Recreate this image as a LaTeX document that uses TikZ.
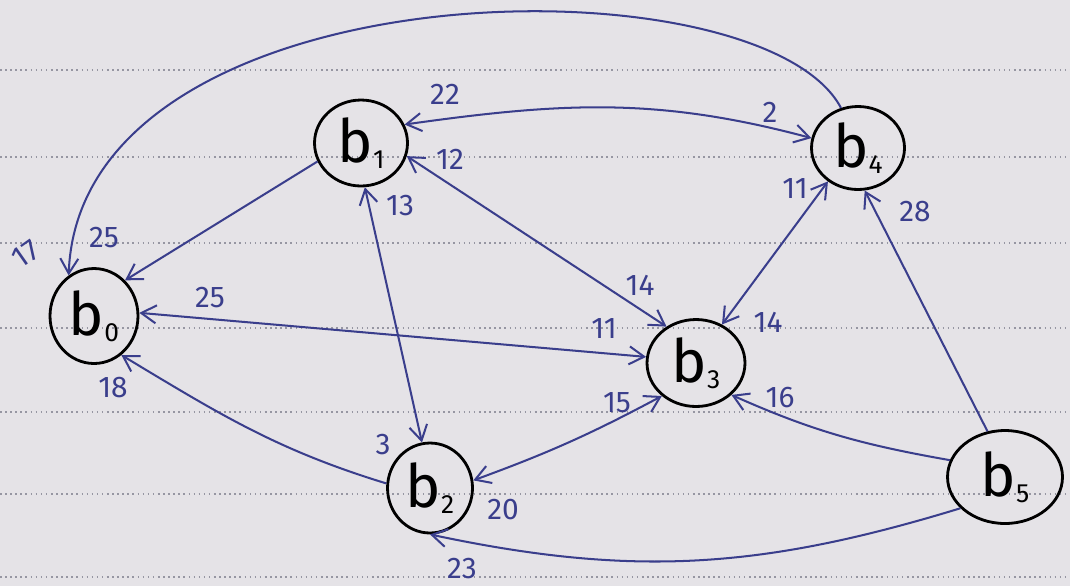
\documentclass[tikz,border=0pt]{standalone}
\usepackage{fontspec}
\setmainfont{Fira Sans}
\usetikzlibrary{arrows.meta,shapes.geometric}
\definecolor{ink}{RGB}{58,62,140}
\definecolor{paper}{RGB}{229,227,231}
\definecolor{rulecol}{RGB}{150,150,162}
\newcommand{\bnode}[1]{{\fontsize{34}{34}\selectfont b}\raisebox{-0.6ex}{\fontsize{15}{15}\selectfont #1}}
\begin{document}
\begin{tikzpicture}[x=0.02cm,y=-0.02cm,
  vert/.style={draw=black,line width=1.6pt,ellipse,inner sep=0pt,text=black},
  edge/.style={draw=ink,line width=1.15pt},
  arr/.style={edge,-{Straight Barb[length=3mm,width=3.6mm]}},
  darr/.style={edge,{Straight Barb[length=3mm,width=3.6mm]}-{Straight Barb[length=3mm,width=3.6mm]}},
  wt/.style={text=ink,font=\fontsize{17}{17}\selectfont,inner sep=0pt},
  paperline/.style={draw=rulecol,line width=0.9pt,dotted}]
\fill[paper] (0,0) rectangle (1070,586);
\useasboundingbox (0,0) rectangle (1070,586);
\foreach \y in {70,157,243,328,412,494,577} \draw[paperline] (0,\y) -- (1070,\y);

\node[vert,minimum width=1.76cm,minimum height=1.9cm] (b0) at (94,316) {\bnode{0}};
\node[vert,minimum width=1.86cm,minimum height=1.72cm] (b1) at (361,143) {\bnode{1}};
\node[vert,minimum width=1.7cm,minimum height=1.8cm] (b2) at (430,488) {\bnode{2}};
\node[vert,minimum width=1.96cm,minimum height=1.74cm] (b3) at (696,363) {\bnode{3}};
\node[vert,minimum width=1.86cm,minimum height=1.66cm] (b4) at (858,148) {\bnode{4}};
\node[vert,minimum width=2.3cm,minimum height=1.86cm] (b5) at (1005,477) {\bnode{5}};

\draw[arr] (b4.113) .. controls (760,-45) and (80,-35) .. (b0.122);
\draw[arr] (b1.203) -- (b0.49);
\draw[darr] (b0.4) -- (b3.173);
\draw[arr] (b2.174) to[out=163,in=-31] (b0.-55);
\draw[darr] (b1.23) to[out=8,in=165] (b4.168);
\draw[darr] (b1.-16) -- (b3.129);
\draw[darr] (b1.-85) -- (b2.100);
\draw[darr] (b4.-132) -- (b3.56);
\draw[darr] (b3.-136) to[bend left=4] (b2.10);
\draw[arr] (b5.163) to[out=170,in=-24] (b3.-42);
\draw[arr] (b5.111) -- (b4.-81);
\draw[arr] (b5.-145) to[out=197,in=-12] (b2.-90);

\node[wt,rotate=35] (w17) at (26,254) {17};
\node[wt] (w25a) at (104,238) {25};
\node[wt] (w25b) at (210,298) {25};
\node[wt] (w18) at (113,388) {18};
\node[wt] (w22) at (445,94) {22};
\node[wt] (w2) at (770,112) {2};
\node[wt] (w12) at (450,159) {12};
\node[wt] (w13) at (400,206) {13};
\node[wt] (w14a) at (640,285) {14};
\node[wt] (w11a) at (604,328) {11};
\node[wt] (w14b) at (768,322) {14};
\node[wt] (w15) at (617,403) {15};
\node[wt] (w16) at (780,398) {16};
\node[wt] (w11b) at (795,188) {11};
\node[wt] (w28) at (915,212) {28};
\node[wt] (w3) at (383,445) {3};
\node[wt] (w20) at (503,510) {20};
\node[wt] (w23) at (462,569) {23};
\end{tikzpicture}
\end{document}
